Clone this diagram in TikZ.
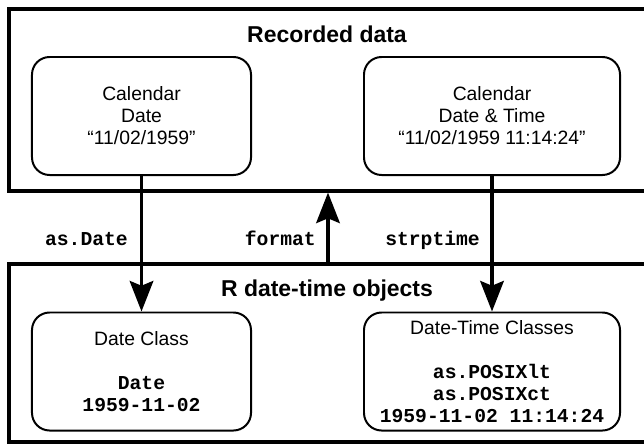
\documentclass[tikz,border=0pt]{standalone}
\usepackage{fontspec}
\setmainfont{Liberation Sans}
\setmonofont{Liberation Mono}
\usetikzlibrary{arrows.meta}

% font sizes used throughout the chart
\newcommand\dtBody{\fontsize{16.5}{18.8}\selectfont}
\newcommand\dtHead{\fontsize{19.6}{22}\selectfont\bfseries}
\newcommand\dtCode{\fontsize{16.8}{18.8}\selectfont\ttfamily\bfseries}

\begin{document}
\begin{tikzpicture}[
  x=0.03cm, y=-0.03cm,
  frame/.style={draw, line width=2.6pt, inner sep=0pt, minimum width=20.13cm},
  databox/.style={draw, line width=1.7pt, rounded corners=15pt, inner sep=0pt,
                  minimum height=3.54cm, align=center, font=\dtBody},
  heading/.style={font=\dtHead, inner sep=0pt, anchor=base},
  fnlabel/.style={font=\dtCode, inner sep=0pt, anchor=base east},
  conv/.style={line width=3.4pt, -{Stealth[length=26pt, width=20pt, inset=4pt]}}
]
\clip (0,0) rectangle (644,445);
\fill[white] (0,0) rectangle (644,445);

% the two outer panels
\node[frame, minimum height=5.46cm] (rec) at (344.5,100) {};
\node[frame, minimum height=5.34cm] (robj) at (344.5,353) {};

\node[heading] (rectitle) at (327,42.7) {Recorded data};
\node[heading] (robjtitle) at (327,296.7) {R date-time objects};

% recorded strings
\node[databox, minimum width=6.57cm] (caldate) at (141.5,116)
  {Calendar\\Date\\“11/02/1959”};
\node[databox, minimum width=7.68cm] (caldt) at (492,116)
  {Calendar\\Date \& Time\\“11/02/1959 11:14:24”};

% R classes
\node[databox, minimum width=6.57cm] (dateclass) at (141.5,371.5)
  {Date Class\\[18.8pt]{\dtCode Date}\\{\dtCode 1959-11-02}};
\node[databox, minimum width=7.68cm] (dtclass) at (492,371.5)
  {Date-Time Classes\\[18.8pt]{\dtCode as.POSIXlt}\\{\dtCode as.POSIXct}\\{\dtCode 1959-11-02 11:14:24}};

% conversions
\coordinate (fmtx) at (328,0);
\draw[conv] (caldate.south) -- (dateclass.north);
\draw[conv] (caldt.south) -- (dtclass.north);
\draw[conv] (robj.north -| fmtx) -- (rec.south -| fmtx);

\node[fnlabel] (lbldate) at (128,245) {as.Date};
\node[fnlabel] (lblfmt) at (316,245) {format};
\node[fnlabel] (lblstrp) at (480,245) {strptime};
\end{tikzpicture}
\end{document}
